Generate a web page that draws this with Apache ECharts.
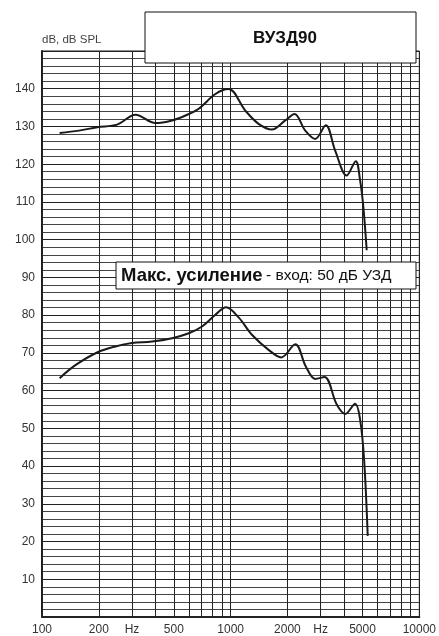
<!DOCTYPE html>
<html>
<head>
<meta charset="utf-8">
<script src="https://cdn.jsdelivr.net/npm/echarts@6/dist/echarts.min.js"></script>
<style>
  html, body { margin: 0; padding: 0; background: #fff; }
  #chart { width: 439px; height: 636px; }
</style>
</head>
<body>
<div id="chart"></div>
<script>
// frequency response data (Hz, dB)
const freqMax = [124, 157, 196, 250, 313, 400, 489, 576, 677, 830, 975, 1196, 1406, 1654, 1947, 2181, 2485, 2806, 3193, 3580, 4124, 4603, 4855, 5050, 5262]
const splMax = [128.3, 128.9, 129.8, 130.5, 133.1, 130.9, 131.6, 132.9, 134.7, 138.6, 139.9, 134.2, 130.7, 129.2, 131.6, 133.3, 128.9, 126.7, 130.3, 123.6, 117.0, 120.8, 115.7, 108.7, 97.2]

const freqGain = [124, 151, 196, 245, 300, 383, 489, 600, 705, 830, 946, 1102, 1296, 1589, 1855, 2200, 2502, 2806, 3143, 3651, 4045, 4570, 4855, 5097, 5328]
const splGain = [63.3, 66.8, 70.1, 71.7, 72.6, 73.0, 73.9, 75.2, 77.0, 80.1, 82.1, 79.4, 74.8, 70.8, 68.8, 72.3, 66.4, 63.1, 63.6, 56.3, 53.8, 56.5, 52.3, 41.7, 21.5]

const gridFreqs = [100, 200, 300, 400, 500, 600, 700, 800, 900, 1000, 2000, 3000, 4000, 5000, 6000, 7000, 8000, 9000, 10000]
const labelFreqs = [100, 200, 300, 500, 1000, 2000, 3000, 5000, 10000]
const hzMarks = [300, 3000]

const chart = echarts.init(document.getElementById('chart'))
const font = 'Liberation Sans, Arial, sans-serif'
const lineColor = '#222'

const toPairs = (xs, ys) => xs.map((x, i) => [x, ys[i]])

const option = {
  animation: false,
  textStyle: { fontFamily: font },
  grid: { left: 42, right: 19, top: 51, bottom: 18, show: true, borderColor: lineColor, borderWidth: 1 },
  xAxis: {
    type: 'log',
    logBase: 10,
    min: 100,
    max: 10000,
    axisLine: { show: true, lineStyle: { color: lineColor, width: 2 } },
    axisTick: { show: false, customValues: gridFreqs },
    axisLabel: {
      customValues: labelFreqs,
      color: '#333',
      fontSize: 12,
      margin: 7,
      formatter: v => hzMarks.includes(v) ? 'Hz' : String(v)
    },
    splitLine: { show: true, lineStyle: { color: lineColor, width: 1 } }
  },
  yAxis: {
    type: 'value',
    min: 0,
    max: 150,
    interval: 10,
    axisLine: { show: true, lineStyle: { color: lineColor, width: 2 } },
    axisTick: { show: false },
    axisLabel: {
      color: '#333',
      fontSize: 12,
      margin: 7,
      formatter: v => (v === 0 || v === 150) ? '' : String(v)
    },
    splitLine: { show: true, lineStyle: { color: lineColor, width: 1 } },
    minorTick: { show: false, splitNumber: 5 },
    minorSplitLine: { show: true, lineStyle: { color: '#444', width: 1 } }
  },
  graphic: [
    { type: 'text', left: 42, top: 34, style: { text: 'dB, dB SPL', fill: '#444', font: '11.5px ' + font } },
    {
      type: 'rect', shape: { x: 145, y: 12, width: 271, height: 51 },
      style: { fill: '#fff', stroke: '#111', lineWidth: 1 }, z: 100
    },
    {
      type: 'text', x: 285, y: 38, z: 101,
      style: { text: 'ВУЗД90', fill: '#111', font: 'bold 17px ' + font, align: 'center', verticalAlign: 'middle' }
    },
    {
      type: 'rect', shape: { x: 116, y: 262, width: 300, height: 27 },
      style: { fill: '#fff', stroke: '#111', lineWidth: 1 }, z: 100
    },
    {
      type: 'text', x: 121, y: 276, z: 101,
      style: {
        text: '{b|Макс. усиление} {n|- вход: 50 дБ УЗД}',
        verticalAlign: 'middle',
        rich: {
          b: { font: 'bold 18.5px ' + font, fill: '#111' },
          n: { font: '15.5px ' + font, fill: '#111' }
        }
      }
    }
  ],
  series: [
    {
      type: 'line',
      data: toPairs(freqMax, splMax),
      smooth: 0.35,
      showSymbol: false,
      lineStyle: { color: '#1a1a1a', width: 2 },
      z: 10
    },
    {
      type: 'line',
      data: toPairs(freqGain, splGain),
      smooth: 0.35,
      showSymbol: false,
      lineStyle: { color: '#1a1a1a', width: 2 },
      z: 10
    }
  ]
}

chart.setOption(option)
</script>
</body>
</html>
